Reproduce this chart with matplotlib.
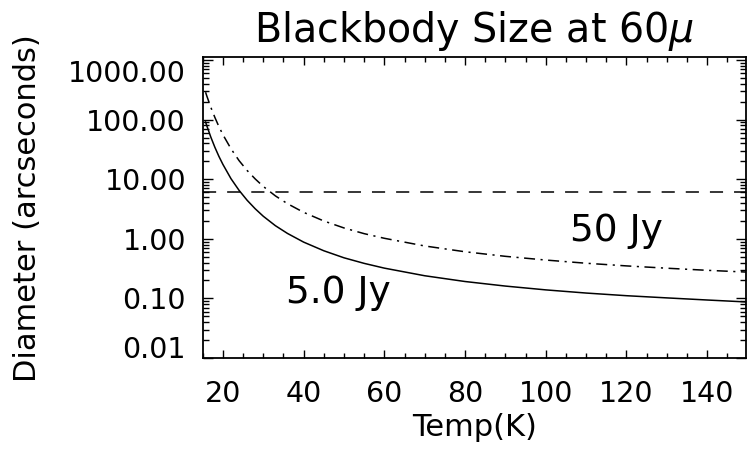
import numpy as np
import matplotlib.pyplot as plt
from matplotlib.ticker import MultipleLocator, LogLocator, NullFormatter

# values
temp = [15.7, 16, 17, 18, 19, 20, 22, 24, 26, 28, 30, 33, 36, 40, 45, 50,
        55, 60, 70, 80, 90, 100, 110, 120, 130, 140, 150]
diam_5jy = [91.3, 79.1, 50.9, 34.4, 24.2, 17.7, 10.2, 6.50, 4.43, 3.19, 2.39,
            1.66, 1.23, 0.88, 0.63, 0.48, 0.387, 0.322, 0.240, 0.192, 0.161,
            0.139, 0.123, 0.111, 0.102, 0.094, 0.087]
diam_50jy = [288, 250, 161, 109, 76.5, 55.8, 32.4, 20.5, 14.0, 10.1, 7.56,
             5.25, 3.88, 2.78, 1.99, 1.52, 1.22, 1.02, 0.758, 0.606, 0.508,
             0.440, 0.389, 0.351, 0.321, 0.296, 0.276]
beam_level = 6.2

xtick_vals = [20, 40, 60, 80, 100, 120, 140]
ytick_vals = [0.01, 0.1, 1, 10, 100, 1000]
ytick_labels = ['0.01', '0.10', '1.00', '10.00', '100.00', '1000.00']

plt.rcParams['mathtext.fontset'] = 'dejavusans'

fig = plt.figure(figsize=(7.47, 4.53), dpi=100)
ax = fig.add_axes([0.2714, 0.2097, 0.998 - 0.2714, 0.8735 - 0.2097])

ax.plot(temp, diam_5jy, color='black', lw=1.1)
ax.plot(temp, diam_50jy, color='black', lw=1.1, dashes=(7.2, 3.6, 1.4, 3.6))
ax.axhline(beam_level, color='black', lw=1.1, dashes=(8.6, 7.2))

ax.set_yscale('log')
ax.set_xlim(15, 149.5)
ax.set_ylim(0.01, 1109)

ax.set_xticks(xtick_vals)
ax.xaxis.set_minor_locator(MultipleLocator(5))
ax.set_yticks(ytick_vals, ytick_labels)
ax.yaxis.set_minor_locator(LogLocator(base=10, subs=np.arange(2, 10)))
ax.yaxis.set_minor_formatter(NullFormatter())

ax.tick_params(which='both', direction='in', top=True, right=True,
               labelsize=20.5, width=1.0)
ax.tick_params(axis='x', which='major', length=5.8, pad=16)
ax.tick_params(axis='x', which='minor', length=3.6)
ax.tick_params(axis='y', which='major', length=7.2, pad=12)
ax.tick_params(axis='y', which='minor', length=4.3)

labels = ax.get_yticklabels()
labels[0].set_va('baseline')
labels[-1].set_va('top')

for s in ax.spines.values():
    s.set_linewidth(1.3)

ax.set_title(r'Blackbody Size at 60$\mu$', fontsize=28.5, pad=11)
ax.set_xlabel('Temp(K)', fontsize=22, va='center')
ax.xaxis.set_label_coords(0.5, -0.2295)
ax.set_ylabel('Diameter (arcseconds)', fontsize=22, va='center')
ax.yaxis.set_label_coords(-0.3237, 0.5)

ax.text(35.6, 0.083, '5.0 Jy', fontsize=27, va='baseline')
ax.text(105.9, 0.93, '50 Jy', fontsize=27, va='baseline')

fig.savefig('out.png', dpi=100, facecolor='white')
